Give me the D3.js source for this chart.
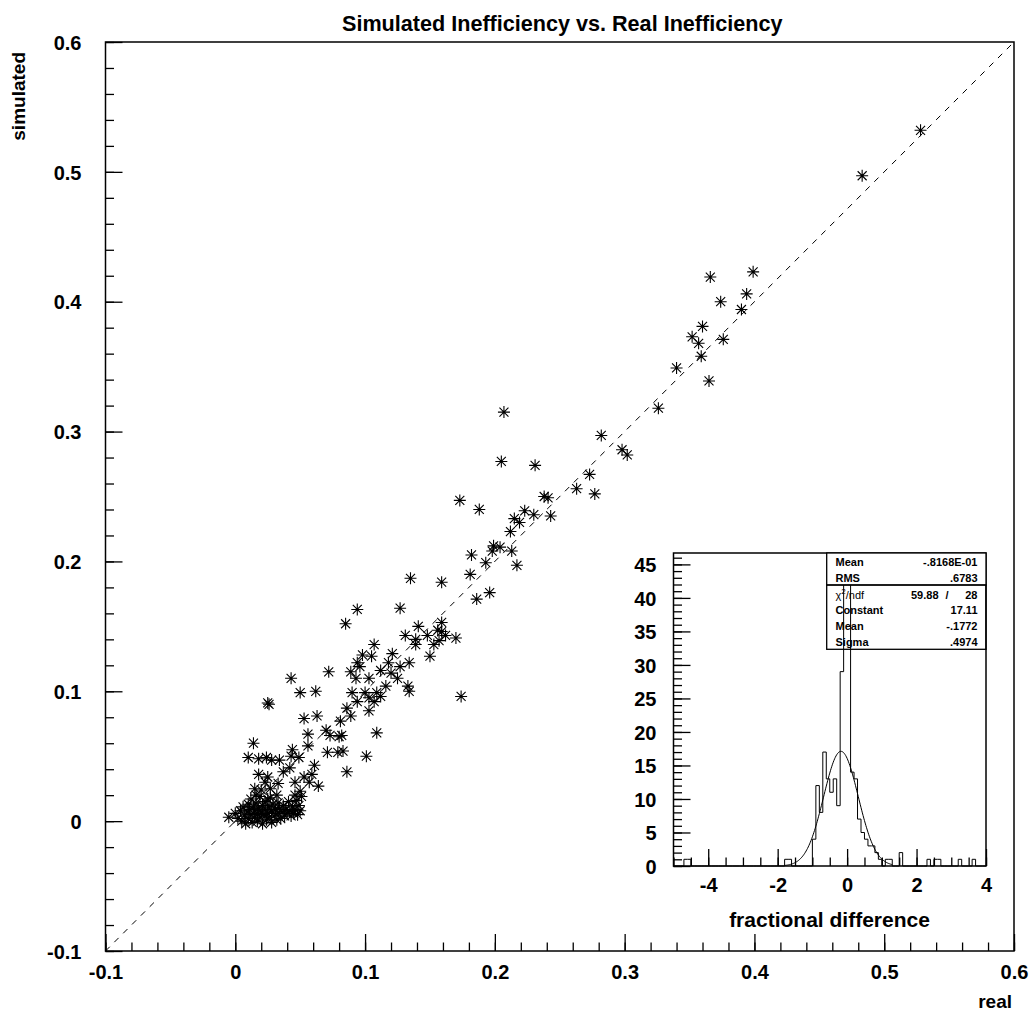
<!DOCTYPE html>
<html>
<head>
<meta charset="utf-8">
<script src="https://cdn.jsdelivr.net/npm/d3@7"></script>
<style>
  body { margin: 0; background: #fff; }
  text { font-family: "Liberation Sans", Arial, Helvetica, sans-serif; font-weight: bold; fill: #000; }
</style>
</head>
<body>
<svg id="chart" width="1031" height="1015"></svg>
<script>
// ---- scatter: real vs simulated inefficiency ----
const scatterPairs = [
  [0.528,0.532],[0.483,0.497],
  [0.399,0.423],[0.366,0.419],[0.394,0.406],[0.374,0.400],[0.390,0.394],[0.360,0.381],
  [0.352,0.373],[0.376,0.371],[0.357,0.368],[0.359,0.358],[0.340,0.349],[0.365,0.339],[0.326,0.318],
  [0.207,0.315],[0.282,0.297],[0.298,0.286],[0.302,0.282],[0.205,0.277],[0.231,0.274],[0.273,0.267],
  [0.263,0.256],[0.277,0.252],[0.238,0.250],[0.241,0.249],[0.173,0.247],[0.188,0.240],[0.223,0.239],
  [0.230,0.236],[0.243,0.235],[0.215,0.233],[0.219,0.230],[0.212,0.223],
  [0.199,0.212],[0.204,0.211],[0.213,0.208],[0.198,0.208],[0.182,0.205],[0.193,0.199],[0.217,0.197],
  [0.181,0.190],[0.135,0.187],[0.159,0.184],[0.196,0.176],[0.186,0.171],[0.127,0.164],[0.159,0.153],
  [0.141,0.150],[0.156,0.147],[0.159,0.146],[0.131,0.143],[0.148,0.143],[0.162,0.143],[0.139,0.140],
  [0.170,0.141],[0.157,0.139],[0.153,0.136],[0.139,0.136],[0.150,0.127],[0.134,0.122],[0.127,0.119],
  [0.133,0.104],[0.134,0.100],[0.174,0.096],
  [0.094,0.163],[0.085,0.152],
  [0.107,0.136],[0.098,0.128],[0.105,0.127],[0.121,0.129],[0.094,0.122],[0.096,0.119],[0.118,0.122],
  [0.072,0.115],[0.043,0.110],[0.089,0.115],[0.093,0.110],[0.103,0.110],[0.112,0.116],[0.120,0.114],
  [0.125,0.110],[0.116,0.104],[0.062,0.100],[0.050,0.099],[0.025,0.091],[0.026,0.090],[0.090,0.099],
  [0.100,0.099],[0.109,0.099],[0.103,0.095],[0.107,0.092],[0.112,0.096],[0.094,0.092],[0.086,0.087],
  [0.103,0.085],[0.053,0.079],[0.063,0.081],[0.089,0.081],[0.081,0.077],[0.109,0.068],[0.070,0.070],
  [0.080,0.065],[0.056,0.067],[0.073,0.066],[0.082,0.066],[0.014,0.060],[0.044,0.055],[0.056,0.058],
  [0.071,0.053],[0.079,0.053],[0.083,0.054],[0.101,0.050],[0.010,0.049],[0.018,0.048],[0.024,0.049],
  [0.028,0.047],[0.034,0.047],[0.043,0.050],[0.049,0.049],[0.042,0.041],[0.061,0.043],[0.086,0.038],
  [0.053,0.034],[0.059,0.036],[0.018,0.036],[0.025,0.034],[0.037,0.038],[0.023,0.030],[0.033,0.029],
  [0.046,0.030],[0.057,0.030],[0.064,0.027],[0.015,0.025],[0.027,0.025],[0.050,0.023],[0.046,0.020],
  [0.016,0.020],[0.032,0.020],[0.025,0.017],
  [-0.005,0.003],[0.000,0.006],[0.002,0.002],[0.004,0.008],[0.005,0.000],[0.006,0.011],[0.007,0.004],
  [0.008,-0.002],[0.009,0.007],[0.010,0.013],[0.010,0.002],[0.011,0.009],[0.012,0.017],[0.012,0.005],
  [0.013,-0.001],[0.014,0.011],[0.015,0.003],[0.015,0.008],[0.016,0.014],[0.017,0.000],[0.017,0.006],
  [0.018,0.010],[0.019,0.019],[0.019,0.003],[0.020,0.007],[0.021,0.012],[0.021,-0.002],[0.022,0.005],
  [0.023,0.009],[0.023,0.015],[0.024,0.001],[0.025,0.006],[0.026,0.011],[0.026,0.003],[0.027,0.018],
  [0.028,0.008],[0.028,-0.001],[0.029,0.013],[0.030,0.004],[0.031,0.009],[0.032,0.001],[0.033,0.014],
  [0.033,0.006],[0.034,0.010],[0.035,0.002],[0.036,0.007],[0.037,0.012],[0.038,0.004],[0.039,0.009],
  [0.040,0.006],[0.041,0.015],[0.042,0.008],[0.043,0.004],[0.044,0.011],[0.045,0.006],[0.046,0.009],
  [0.047,0.016],[0.048,0.005],[0.049,0.012],[0.050,0.008],[0.051,0.019],[0.020,0.024]
];
const mainTicks = [-0.1, 0, 0.1, 0.2, 0.3, 0.4, 0.5, 0.6];

// ---- inset: fractional difference histogram (bins of width 0.1) ----
const diffBinStarts = [-4.7,-4.6,-1.8,-1.7,-1.0,-0.9,-0.8,-0.7,-0.6,-0.5,-0.4,-0.3,-0.2,-0.1,0.0,
                       0.1,0.2,0.3,0.4,0.5,0.6,0.7,0.8,0.9,1.1,1.2,1.5,2.3,2.5,2.6,3.2,3.6];
const diffCounts    = [1,1,1,1,4,12,8,17,13,11,13,9,29,44,42,
                       14,13,7,5,4,3,3,2,1,1,1,2,1,1,1,1,1];
const insetXTicks = [-4, -2, 0, 2, 4];
const insetYTicks = [0, 5, 10, 15, 20, 25, 30, 35, 40, 45];
// fit results shown in the statistics box
const statLabels = ["Mean", "RMS"];
const statValues = ["-.8168E-01", ".6783"];
const fitLabels  = ["Constant", "Mean", "Sigma"];
const fitValues  = [17.11, -0.1772, 0.4974];
const fitValueText = ["17.11", "-.1772", ".4974"];
const chi2 = "59.88", ndf = "28";

const svg = d3.select("#chart");

// ---------- main frame ----------
const x = d3.scaleLinear().domain([-0.1, 0.6]).range([105.5, 1014]);
const y = d3.scaleLinear().domain([-0.1, 0.6]).range([951, 42]);
const fmt = v => (Math.abs(v) < 1e-9 ? "0" : String(+v.toFixed(2)).replace("\u2212", "-"));
const minorVals = d3.range(-0.1, 0.6001, 0.02).map(v => +v.toFixed(3));

function styleAxis(g) {
  g.select(".domain").remove();
  g.selectAll(".tick line").attr("stroke", "#000").attr("stroke-width", 1.3);
}

svg.append("g").attr("transform", `translate(0,${y(-0.1)})`)
  .call(d3.axisBottom(x).tickValues(minorVals).tickSize(-8.5).tickFormat(""))
  .call(styleAxis);
const xa = svg.append("g").attr("transform", `translate(0,${y(-0.1)})`)
  .call(d3.axisBottom(x).tickValues(mainTicks).tickSize(-17).tickFormat(fmt))
  .call(styleAxis);
xa.selectAll("text").attr("y", 27.5).attr("dy", null).style("font-size", "20px");

svg.append("g").attr("transform", `translate(${x(-0.1)},0)`)
  .call(d3.axisLeft(y).tickValues(minorVals).tickSize(-8.5).tickFormat(""))
  .call(styleAxis);
const ya = svg.append("g").attr("transform", `translate(${x(-0.1)},0)`)
  .call(d3.axisLeft(y).tickValues(mainTicks).tickSize(-17).tickFormat(fmt))
  .call(styleAxis);
ya.selectAll("text").attr("x", -24).attr("dy", "0.36em").style("font-size", "20px");

svg.append("rect")
  .attr("x", x(-0.1)).attr("y", y(0.6))
  .attr("width", x(0.6) - x(-0.1)).attr("height", y(-0.1) - y(0.6))
  .attr("fill", "none").attr("stroke", "#000").attr("stroke-width", 1.5);

// diagonal reference line sim = real
svg.append("line")
  .attr("x1", x(-0.1)).attr("y1", y(-0.1)).attr("x2", x(0.6)).attr("y2", y(0.6))
  .attr("stroke", "#000").attr("stroke-width", 1).attr("stroke-dasharray", "6,6.5");

// asterisk markers
const star = "M-6,0H6M0,-6V6M-4.5,-4.5L4.5,4.5M-4.5,4.5L4.5,-4.5";
svg.append("g").selectAll("path").data(scatterPairs).join("path")
  .attr("d", star)
  .attr("transform", d => `translate(${x(d[0])},${y(d[1])})`)
  .attr("stroke", "#000").attr("stroke-width", 1.1).attr("fill", "none");

// titles
svg.append("text").attr("x", 342).attr("y", 31).style("font-size", "21.6px")
  .text("Simulated Inefficiency vs. Real Inefficiency");
svg.append("text").attr("transform", "translate(25,52) rotate(-90)")
  .attr("text-anchor", "end").style("font-size", "19px").text("simulated");
svg.append("text").attr("x", 1012).attr("y", 1008).attr("text-anchor", "end")
  .style("font-size", "19px").text("real");

// ---------- inset histogram ----------
const hx = d3.scaleLinear().domain([-5, 4]).range([673.5, 986]);
const hy = d3.scaleLinear().domain([0, 46.7]).range([866, 553]);

svg.append("rect").attr("x", 673.5).attr("y", 553).attr("width", 986 - 673.5).attr("height", 866 - 553)
  .attr("fill", "#fff").attr("stroke", "none");

svg.append("g").attr("transform", `translate(0,${hy(0)})`)
  .call(d3.axisBottom(hx).tickValues(d3.range(-5, 4.001, 0.5)).tickSize(-8.5).tickFormat(""))
  .call(styleAxis);
const hxa = svg.append("g").attr("transform", `translate(0,${hy(0)})`)
  .call(d3.axisBottom(hx).tickValues(insetXTicks).tickSize(-17).tickFormat(d => String(d)))
  .call(styleAxis);
hxa.selectAll("text").attr("y", 26).attr("dy", null).style("font-size", "20px");

svg.append("g").attr("transform", `translate(${hx(-5)},0)`)
  .call(d3.axisLeft(hy).tickValues(d3.range(0, 47, 1)).tickSize(-8.5).tickFormat(""))
  .call(styleAxis);
const hya = svg.append("g").attr("transform", `translate(${hx(-5)},0)`)
  .call(d3.axisLeft(hy).tickValues(insetYTicks).tickSize(-17).tickFormat(d => String(d)))
  .call(styleAxis);
hya.selectAll("text").attr("x", -17).attr("dy", "0.36em").style("font-size", "20px");

// step outline of the histogram
const counts = new Map(diffBinStarts.map((b, i) => [b.toFixed(1), diffCounts[i]]));
const nb = 90, bw = 0.1;
const steps = [[hx(-5), hy(0)]];
for (let i = 0; i < nb; i++) {
  const lo = -5 + i * bw, hi = lo + bw;
  const c = counts.get(lo.toFixed(1)) || 0;
  steps.push([hx(lo), hy(c)], [hx(hi), hy(c)]);
}
steps.push([hx(4), hy(0)]);
svg.append("path").attr("d", d3.line()(steps))
  .attr("fill", "none").attr("stroke", "#000").attr("stroke-width", 1);

// gaussian fit curve
const [gC, gM, gS] = fitValues;
const gx = d3.range(-1.8, 1.3001, 0.02);
svg.append("path")
  .attr("d", d3.line().x(v => hx(v)).y(v => hy(gC * Math.exp(-0.5 * ((v - gM) / gS) ** 2)))(gx))
  .attr("fill", "none").attr("stroke", "#000").attr("stroke-width", 1);

svg.append("rect").attr("x", 673.5).attr("y", 553).attr("width", 986 - 673.5).attr("height", 866 - 553)
  .attr("fill", "none").attr("stroke", "#000").attr("stroke-width", 1.5);

svg.append("text").attr("x", 829.5).attr("y", 927).attr("text-anchor", "middle")
  .style("font-size", "21px").text("fractional difference");

// statistics box
const bx0 = 826.7, bx1 = 986;
svg.append("rect").attr("x", bx0).attr("y", 553).attr("width", bx1 - bx0).attr("height", 585 - 553)
  .attr("fill", "#fff").attr("stroke", "#000").attr("stroke-width", 1.3);
svg.append("rect").attr("x", bx0).attr("y", 585).attr("width", bx1 - bx0).attr("height", 649.3 - 585)
  .attr("fill", "none").attr("stroke", "#000").attr("stroke-width", 1.3);

const rowY = [566, 581.5];
statLabels.forEach((t, i) => {
  svg.append("text").attr("x", 835.5).attr("y", rowY[i]).style("font-size", "11px").text(t);
  svg.append("text").attr("x", 977.5).attr("y", rowY[i]).attr("text-anchor", "end").style("font-size", "11px").text(statValues[i]);
});
const chiT = svg.append("text").attr("x", 835.5).attr("y", 598.5).style("font-size", "11px").style("font-weight", "normal");
chiT.append("tspan").text("\u03c7");
chiT.append("tspan").attr("dy", -5).style("font-size", "8px").text("2");
chiT.append("tspan").attr("dy", 5).text("/ndf");
svg.append("text").attr("x", 938.5).attr("y", 598.5).attr("text-anchor", "end").style("font-size", "11px").text(chi2);
svg.append("text").attr("x", 947).attr("y", 598.5).attr("text-anchor", "middle").style("font-size", "11px").text("/");
svg.append("text").attr("x", 977.5).attr("y", 598.5).attr("text-anchor", "end").style("font-size", "11px").text(ndf);
const fitRowY = [614, 630, 646];
fitLabels.forEach((t, i) => {
  svg.append("text").attr("x", 835.5).attr("y", fitRowY[i]).style("font-size", "11px").text(t);
  svg.append("text").attr("x", 977.5).attr("y", fitRowY[i]).attr("text-anchor", "end").style("font-size", "11px").text(fitValueText[i]);
});
</script>
</body>
</html>
